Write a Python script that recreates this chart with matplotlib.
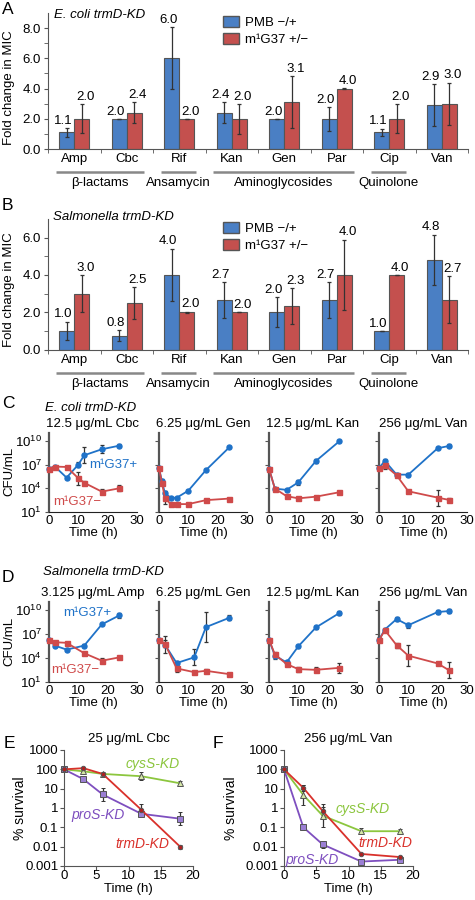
import numpy as np
import matplotlib
matplotlib.use('Agg')
import matplotlib.pyplot as plt
from matplotlib.patches import Patch
import matplotlib.transforms as mtransforms

plt.rcParams['font.family'] = ['Liberation Sans', 'DejaVu Sans']
plt.rcParams['mathtext.fontset'] = 'custom'
plt.rcParams['mathtext.rm'] = 'Liberation Sans'
plt.rcParams['mathtext.it'] = 'Liberation Sans:italic'
plt.rcParams['mathtext.bf'] = 'Liberation Sans:bold'

# ---------------- data ----------------
drugs = ['Amp', 'Cbc', 'Rif', 'Kan', 'Gen', 'Par', 'Cip', 'Van']
group_names = ['β-lactams', 'Ansamycin', 'Aminoglycosides', 'Quinolone']
group_first = [0, 2, 3, 6]
group_last = [1, 2, 5, 6]
legend_labels = ['PMB −/+', 'm¹G37 +/−']

a_pmb = [1.1, 2.0, 6.0, 2.4, 2.0, 2.0, 1.1, 2.9]
a_pmb_err = [0.3, 0.0, 2.05, 0.7, 0.0, 0.8, 0.25, 1.38]
a_m1g = [2.0, 2.4, 2.0, 2.0, 3.1, 4.0, 2.0, 3.0]
a_m1g_err = [0.95, 0.7, 0.0, 1.0, 1.7, 0.05, 0.97, 1.4]

b_pmb = [1.0, 0.75, 4.0, 2.67, 2.0, 2.67, 1.0, 4.8]
b_pmb_err = [0.5, 0.27, 1.41, 0.96, 0.8, 0.96, 0.0, 1.36]
b_m1g = [3.0, 2.5, 2.0, 2.0, 2.33, 4.0, 4.0, 2.67]
b_m1g_err = [1.0, 0.87, 0.03, 0.0, 0.98, 1.9, 0.0, 1.27]

# time-kill curves, log10 CFU/mL ; errors in decades
c_titles = ['12.5 μg/mL Cbc', '6.25 μg/mL Gen', '12.5 μg/mL Kan', '256 μg/mL Van']
c_times = [[0, 2, 6, 10, 12, 18, 24],
           [0, 1, 2, 4, 6, 10, 16, 24],
           [0, 2, 6, 10, 16, 24],
           [0, 2, 6, 10, 20, 24]]
c_plus_log10 = [[6.5, 6.75, 5.35, 7.0, 8.18, 8.94, 9.4],
                [6.55, 4.9, 3.4, 2.8, 2.8, 3.7, 6.3, 9.2],
                [6.5, 3.96, 3.8, 4.76, 7.46, 9.96],
                [6.58, 7.46, 5.73, 5.73, 9.07, 9.37]]
c_plus_err = [[0.1, 0.1, 0.1, 0.3, 1.0, 0.5, 0.2],
              [0.1, 0.3, 0.2, 0.1, 0.1, 0.1, 0.1, 0.1],
              [0.1, 0.1, 0.1, 0.3, 0.2, 0.1],
              [0.1, 0.3, 0.2, 0.2, 0.1, 0.2]]
c_minus_log10 = [[6.5, 6.75, 6.7, 5.27, 4.7, 3.58, 4.0],
                 [6.55, 4.7, 2.8, 2.0, 2.0, 2.0, 2.5, 2.7],
                 [6.5, 3.96, 3.0, 2.73, 2.94, 3.5],
                 [6.58, 6.9, 5.65, 3.62, 2.82, 2.52]]
c_minus_err = [[0.1, 0.1, 0.1, 0.8, 0.2, 0.3, 0.4],
               [0.1, 0.3, 0.8, 0.1, 0.1, 0.1, 0.1, 0.1],
               [0.1, 0.1, 0.2, 0.1, 0.1, 0.2],
               [0.2, 0.4, 0.2, 0.1, 1.0, 0.2]]

d_titles = ['3.125 μg/mL Amp', '6.25 μg/mL Gen', '12.5 μg/mL Kan', '256 μg/mL Van']
d_times = [[0, 2, 6, 12, 18, 24],
           [0, 2, 6, 12, 16, 24],
           [0, 2, 6, 10, 16, 24],
           [0, 2, 6, 10, 20, 24]]
d_plus_log10 = [[6.3, 5.55, 5.05, 5.55, 8.2, 9.33],
                [6.3, 5.68, 3.37, 4.08, 7.86, 9.03],
                [6.3, 4.29, 3.45, 5.46, 7.82, 9.62],
                [6.3, 7.56, 8.87, 8.1, 9.75, 9.87]]
d_plus_err = [[0.1, 0.2, 0.2, 0.2, 0.1, 0.3],
              [0.1, 1.1, 0.2, 1.0, 1.9, 0.3],
              [0.1, 0.4, 0.1, 0.2, 0.2, 0.3],
              [0.3, 0.1, 0.3, 0.3, 0.2, 0.3]]
d_minus_log10 = [[6.3, 5.97, 5.9, 4.6, 3.66, 4.08],
                 [6.3, 5.8, 2.7, 2.23, 2.4, 1.98],
                 [6.3, 4.45, 3.24, 2.61, 2.52, 2.77],
                 [6.22, 7.48, 5.6, 4.29, 3.32, 2.44]]
d_minus_err = [[0.1, 0.1, 0.1, 0.1, 0.3, 0.2],
               [0.1, 0.4, 0.5, 0.1, 0.2, 0.1],
               [0.1, 0.1, 0.1, 0.3, 0.3, 0.6],
               [0.1, 0.1, 0.3, 1.3, 0.2, 1.0]]

# survival (%)
surv_times = [0, 3, 6, 12, 18]
e_trmD = [100, 115, 58, 0.8, 0.01]
e_cysS = [100, 79, 58, 44, 19]
e_proS = [100, 31, 5, 0.5, 0.28]
e_trmD_err = [0, 0.05, 0.08, 0.3, 0.1]
e_cysS_err = [0, 0.08, 0.05, 0.2, 0.12]
e_proS_err = [0, 0.05, 0.35, 0.12, 0.35]
f_trmD = [100, 11, 0.7, 0.0042, 0.0029]
f_cysS = [100, 4.7, 0.4, 0.063, 0.063]
f_proS = [100, 0.1, 0.013, 0.0017, 0.0021]
f_trmD_err = [0, 0.15, 0.2, 0.05, 0.08]
f_cysS_err = [0, 0.5, 0.6, 0.15, 0.12]
f_proS_err = [0, 0.15, 0.18, 0.05, 0.12]

# ---------------- styling ----------------
W, H = 475, 900
BLUE_BAR = '#4a7fc4'
RED_BAR = '#c4504e'
BLUE = '#1f72c8'
RED = '#cf4a4a'
ERR = '#333333'
FS = 9.5

fig = plt.figure(figsize=(W / 100, H / 100), dpi=100)


def axes_px(l, t, r, b):
    return fig.add_axes([l / W, 1 - b / H, (r - l) / W, (b - t) / H])


def ftext(x, y, s, **kw):
    kw.setdefault('fontsize', FS)
    return fig.text(x / W, 1 - y / H, s, **kw)


def bar_panel(ax, pmb, pmb_err, m1g, m1g_err, ymax, axh_px):
    x = np.arange(len(drugs))
    w = 0.29
    ax.bar(x - w / 2, pmb, w, color=BLUE_BAR, edgecolor='#555555', lw=0.8,
           yerr=pmb_err, error_kw=dict(ecolor=ERR, elinewidth=0.9, capsize=1.5, capthick=0.9))
    ax.bar(x + w / 2, m1g, w, color=RED_BAR, edgecolor='#555555', lw=0.8,
           yerr=m1g_err, error_kw=dict(ecolor=ERR, elinewidth=0.9, capsize=1.5, capthick=0.9))
    for i in range(len(drugs)):
        ax.annotate(f'{pmb[i]:.1f}', (x[i] - w / 2, pmb[i] + pmb_err[i]),
                    xytext=(-2.5, 3), textcoords='offset points', ha='center',
                    va='baseline', fontsize=FS)
        ax.annotate(f'{m1g[i]:.1f}', (x[i] + w / 2, m1g[i] + m1g_err[i]),
                    xytext=(2.5, 3), textcoords='offset points', ha='center',
                    va='baseline', fontsize=FS)
    ax.set_xlim(-0.5, len(drugs) - 0.5)
    ax.set_ylim(0, ymax)
    ax.set_yticks(np.arange(0, ymax, 2.0))
    ax.set_yticklabels([f'{v:.1f}' for v in np.arange(0, ymax, 2.0)], fontsize=FS)
    ax.set_yticks(np.arange(1, ymax, 2.0), minor=True)
    ax.set_xticks(x)
    ax.set_xticklabels(drugs, fontsize=FS)
    ax.set_xticks(np.arange(-0.5, len(drugs), 1.0), minor=True)
    ax.tick_params(axis='x', which='major', length=0, pad=3)
    ax.tick_params(axis='x', which='minor', length=3, direction='out', color='#555555')
    ax.tick_params(axis='y', which='both', length=3, direction='out', color='#555555', pad=2)
    for s in ['top', 'right']:
        ax.spines[s].set_visible(False)
    ax.spines['left'].set_color('#555555')
    ax.spines['bottom'].set_color('#555555')
    trans = mtransforms.blended_transform_factory(ax.transData, ax.transAxes)
    yline = -23 / axh_px
    ytxt = -34 / axh_px
    for name, a, b in zip(group_names, group_first, group_last):
        ax.plot([a - 0.35, b + 0.32], [yline, yline], color='#888888', lw=1.8,
                transform=trans, clip_on=False, solid_capstyle='butt')
        ax.text((a + b) / 2 - 0.02, ytxt, name, transform=trans, ha='center',
                va='center', fontsize=FS)
    handles = [Patch(facecolor=BLUE_BAR, edgecolor='#555555'),
               Patch(facecolor=RED_BAR, edgecolor='#555555')]
    ax.legend(handles, legend_labels, loc='upper left', bbox_to_anchor=(0.41, 1.0),
              frameon=False, fontsize=FS, handlelength=1.2, handleheight=0.9,
              handletextpad=0.5, labelspacing=0.35, borderaxespad=0, borderpad=0.2)


# Panel A
axA = axes_px(48, 13, 468, 149)
bar_panel(axA, a_pmb, a_pmb_err, a_m1g, a_m1g_err, 9.0, 136)
ftext(2, 9, 'A', fontsize=12.5, va='center')
ftext(54, 15, 'E. coli trmD-KD', style='italic', va='center')
ftext(9, 88, 'Fold change in MIC', rotation=90, ha='center', va='center')

# Panel B
axB = axes_px(48, 219, 468, 349.5)
bar_panel(axB, b_pmb, b_pmb_err, b_m1g, b_m1g_err, 7.0, 130.5)
ftext(2, 205, 'B', fontsize=12.5, va='center')
ftext(53, 217, 'Salmonella trmD-KD', style='italic', va='center')
ftext(9, 290, 'Fold change in MIC', rotation=90, ha='center', va='center')


def cfu_panel(ax, t, plus, plus_e, minus, minus_e, first, title):
    for vals, errs, color, mk in [(plus, plus_e, BLUE, 'o'), (minus, minus_e, RED, 's')]:
        v = np.array(vals)
        e = np.array(errs)
        y = 10 ** v
        lo = y - 10 ** (v - e)
        hi = 10 ** (v + e) - y
        ax.errorbar(t, y, yerr=[lo, hi], color=color, marker=mk, ms=3.6, lw=1.3,
                    ecolor=ERR, elinewidth=0.9, capsize=1.6, capthick=0.9,
                    clip_on=False, zorder=3)
    ax.set_yscale('log')
    ax.set_ylim(10, 1e11)
    ax.set_xlim(0, 30)
    ax.set_yticks([1e1, 1e4, 1e7, 1e10])
    ax.minorticks_off()
    if first:
        ax.set_yticklabels(['$10^{1}$', '$10^{4}$', '$10^{7}$', '$10^{10}$'], fontsize=FS)
    else:
        ax.set_yticklabels([])
    ax.set_xticks([0, 10, 20, 30])
    ax.set_xticklabels(['0', '10', '20', '30'], fontsize=FS)
    ax.tick_params(axis='x', length=0, pad=2)
    ax.tick_params(axis='y', length=3, direction='out', color='#555555', pad=2)
    for s in ['top', 'right']:
        ax.spines[s].set_visible(False)
    ax.spines['left'].set_color('#555555')
    ax.spines['left'].set_linewidth(1.6)
    ax.spines['bottom'].set_color('#222222')
    ax.set_xlabel('Time (h)', fontsize=FS, labelpad=0)
    ax.set_title(title, fontsize=FS, pad=4)


lefts = [49, 159, 269, 379]
for i in range(4):
    ax = axes_px(lefts[i], 433, lefts[i] + 88, 512)
    cfu_panel(ax, c_times[i], c_plus_log10[i], c_plus_err[i],
              c_minus_log10[i], c_minus_err[i], i == 0, c_titles[i])
    if i == 0:
        ax.text(21.8, 10 ** 6.96, 'm¹G37+', color=BLUE, ha='center', va='center', fontsize=FS)
        ax.text(9.5, 10 ** 2.3, 'm¹G37−', color=RED, ha='center', va='center', fontsize=FS)
ftext(2, 403, 'C', fontsize=12.5, va='center')
ftext(45, 408, 'E. coli trmD-KD', style='italic', va='center')
ftext(9, 471, 'CFU/mL', rotation=90, ha='center', va='center')

for i in range(4):
    ax = axes_px(lefts[i], 602, lefts[i] + 88, 682)
    cfu_panel(ax, d_times[i], d_plus_log10[i], d_plus_err[i],
              d_minus_log10[i], d_minus_err[i], i == 0, d_titles[i])
    if i == 0:
        ax.text(13, 10 ** 9.6, 'm¹G37+', color=BLUE, ha='center', va='center', fontsize=FS)
        ax.text(8.9, 10 ** 2.45, 'm¹G37−', color=RED, ha='center', va='center', fontsize=FS)
ftext(2, 577, 'D', fontsize=12.5, va='center')
ftext(43, 572, 'Salmonella trmD-KD', style='italic', va='center')
ftext(9, 641, 'CFU/mL', rotation=90, ha='center', va='center')

TRM = '#d9312b'
CYS = '#8cc63e'
PRO = '#7e4fbf'


def surv_panel(ax, trm, trm_e, cys, cys_e, pro, pro_e, title):
    series = [(cys, cys_e, CYS, '^', '#d6e8a8'),
              (pro, pro_e, PRO, 's', '#9b7fd4'),
              (trm, trm_e, TRM, 'o', '#b02020')]
    for vals, errs, color, mk, fc in series:
        y = np.array(vals, dtype=float)
        e = np.array(errs)
        lo = y - y / 10 ** e
        hi = y * 10 ** e - y
        ax.errorbar(surv_times, y, yerr=[lo, hi], color=color, marker=mk,
                    ms=4.2 if mk != 'o' else 3.2, mfc=fc, mec='#555555', mew=0.7,
                    lw=1.3, ecolor=ERR, elinewidth=0.9, capsize=1.6, capthick=0.9,
                    clip_on=False, zorder=3)
    ax.set_yscale('log')
    ax.set_ylim(0.001, 1000)
    ax.set_xlim(0, 20)
    yt = [0.001, 0.01, 0.1, 1, 10, 100, 1000]
    ax.set_yticks(yt)
    ax.set_yticklabels(['0.001', '0.01', '0.1', '1', '10', '100', '1000'], fontsize=FS)
    ax.minorticks_off()
    ax.set_xticks([0, 5, 10, 15, 20])
    ax.set_xticklabels(['0', '5', '10', '15', '20'], fontsize=FS)
    ax.tick_params(axis='both', length=3, direction='out', color='#555555', pad=1)
    ax.tick_params(axis='x', pad=0)
    for s in ['top', 'right']:
        ax.spines[s].set_visible(False)
    ax.spines['left'].set_color('#555555')
    ax.spines['bottom'].set_color('#555555')
    ax.set_xlabel('Time (h)', fontsize=FS, labelpad=0.5)
    ax.set_title(title, fontsize=FS, pad=6)


axE = axes_px(64, 750, 193, 866)
surv_panel(axE, e_trmD, e_trmD_err, e_cysS, e_cysS_err, e_proS, e_proS_err, '25 μg/mL Cbc')
axE.text(13.8, 195, 'cysS-KD', color=CYS, style='italic', ha='center', va='center', fontsize=FS + 0.5)
axE.text(5.3, 0.42, 'proS-KD', color=PRO, style='italic', ha='center', va='center', fontsize=FS + 0.5)
axE.text(12.2, 0.0135, 'trmD-KD', color=TRM, style='italic', ha='center', va='center', fontsize=FS + 0.5)
ftext(4, 743, 'E', fontsize=12.5, va='center')
ftext(20, 808, '% survival', rotation=90, ha='center', va='center', fontsize=FS + 0.5)

axF = axes_px(284, 750, 413, 866)
surv_panel(axF, f_trmD, f_trmD_err, f_cysS, f_cysS_err, f_proS, f_proS_err, '256 μg/mL Van')
axF.text(12.2, 0.93, 'cysS-KD', color=CYS, style='italic', ha='center', va='center', fontsize=FS + 0.5)
axF.text(15.7, 0.015, 'trmD-KD', color=TRM, style='italic', ha='center', va='center', fontsize=FS + 0.5)
axF.text(4.3, 0.002, 'proS-KD', color=PRO, style='italic', ha='center', va='center', fontsize=FS + 0.5)
ftext(213, 743, 'F', fontsize=12.5, va='center')
ftext(231, 808, '% survival', rotation=90, ha='center', va='center', fontsize=FS + 0.5)

fig.savefig('out.png', dpi=100)
